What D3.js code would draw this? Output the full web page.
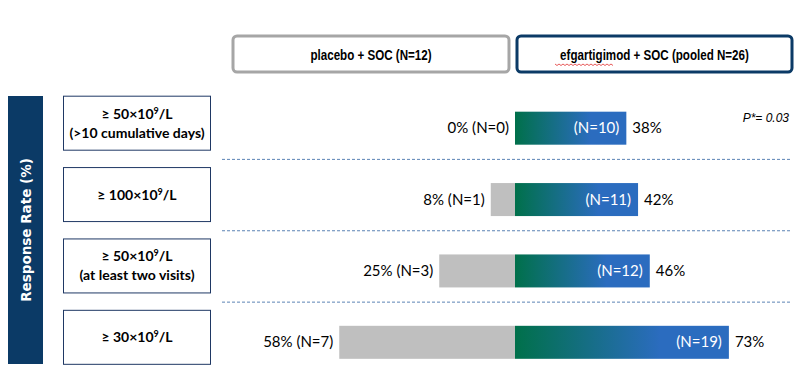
<!DOCTYPE html>
<html>
<head>
<meta charset="utf-8">
<script src="https://cdn.jsdelivr.net/npm/d3@7"></script>
<style>
  body { margin: 0; background: #fff; }
  svg { display: block; }
</style>
</head>
<body>
<div id="chart"></div>
<script>
// thresholds shown in the left boxes (one array of lines per row)
const categories = [
  ['≥ 50×10⁹/L', '(>10 cumulative days)'],
  ['≥ 100×10⁹/L'],
  ['≥ 50×10⁹/L', '(at least two visits)'],
  ['≥ 30×10⁹/L']
];
const placeboPct = [0, 8, 25, 58];
const placeboN = [0, 1, 3, 7];
const efgPct = [38, 42, 46, 73];
const efgN = [10, 11, 12, 19];
const groupLabels = ['placebo + SOC (N=12)', 'efgartigimod + SOC (pooled N=26)'];
const pValue = 'P*= 0.03';

const width = 811;
const height = 372;
const navy = '#0b3a66';
const labelFont = 'Lato, "Open Sans", sans-serif';

const svg = d3.select('#chart').append('svg')
  .attr('width', width)
  .attr('height', height);

// gradient for the efgartigimod bars
const grad = svg.append('defs').append('linearGradient')
  .attr('id', 'efgGrad')
  .attr('x1', '0').attr('x2', '1').attr('y1', '0').attr('y2', '0');
grad.append('stop').attr('offset', '0').attr('stop-color', '#00704a');
grad.append('stop').attr('offset', '0.68').attr('stop-color', '#2b6cbf');
grad.append('stop').attr('offset', '1').attr('stop-color', '#2b6cbf');

// scales: rows, and one x scale per side of the centre line
const rowIdx = categories.map((d, i) => i);
const y = d3.scaleBand().domain(rowIdx).range([87.5, 373]);
const xLeft = d3.scaleLinear().domain([0, 100]).range([515, 212]);
const xRight = d3.scaleLinear().domain([0, 100]).range([515, 808]);
const barH = 33;
const barOffset = 5; // bars sit a bit lower than the label boxes
const rowMid = i => y(i) + y.bandwidth() / 2;

// header boxes
const headers = [
  { x: 233, w: 276, stroke: '#a6a6a6', text: groupLabels[0] },
  { x: 517, w: 275, stroke: navy, text: groupLabels[1] }
];
const head = svg.selectAll('g.header').data(headers).join('g').attr('class', 'header');
head.append('rect')
  .attr('x', d => d.x).attr('y', 36)
  .attr('width', d => d.w).attr('height', 36)
  .attr('rx', 4)
  .attr('fill', '#fff')
  .attr('stroke', d => d.stroke)
  .attr('stroke-width', 3);
// narrow bold face: squeeze Liberation Sans horizontally
head.append('text')
  .attr('transform', d => `translate(${d.x + d.w / 2},59.5) scale(0.8,1)`)
  .attr('text-anchor', 'middle')
  .attr('font-family', '"Liberation Sans", Arial, sans-serif')
  .attr('font-weight', 'bold')
  .attr('font-size', 14.5)
  .attr('fill', '#000')
  .text(d => d.text);

// spell-check squiggle under "efgartigimod"
const squig = d3.range(555, 614, 2).map((px, i) => [px, 64.5 + (i % 2 ? 1 : -0.5)]);
svg.append('path')
  .attr('d', d3.line()(squig))
  .attr('fill', 'none')
  .attr('stroke', '#e03030')
  .attr('stroke-width', 0.8);

// vertical axis title
svg.append('rect')
  .attr('x', 8).attr('y', 96)
  .attr('width', 35).attr('height', 268)
  .attr('fill', navy);
svg.append('text')
  .attr('transform', 'translate(30.5,230) rotate(-90)')
  .attr('text-anchor', 'middle')
  .attr('font-family', '"DejaVu Sans", Verdana, sans-serif')
  .attr('font-weight', 'bold')
  .attr('font-size', 13.5)
  .attr('fill', '#fff')
  .text('Response Rate (%)');

// category boxes
const boxes = svg.selectAll('g.cat').data(categories).join('g').attr('class', 'cat');
boxes.append('rect')
  .attr('x', 63.5).attr('y', (d, i) => rowMid(i) - 27)
  .attr('width', 147).attr('height', 54)
  .attr('fill', '#fff')
  .attr('stroke', '#1f3864')
  .attr('stroke-width', 1);
boxes.append('text')
  .attr('text-anchor', 'middle')
  .attr('font-family', labelFont)
  .attr('font-weight', 'bold')
  .attr('font-size', 14)
  .attr('fill', '#000')
  .each(function (d, i) {
    const t = d3.select(this);
    const start = rowMid(i) + 5 - (d.length - 1) * 9.5;
    d.forEach((line, k) => {
      const ly = start + k * 19;
      const parts = line.split('⁹');
      if (parts.length === 1) {
        t.append('tspan').attr('x', 137).attr('y', ly).text(line);
        return;
      }
      // draw the exponent as a raised small 9
      const w = line.length * 7.1;
      t.append('tspan').attr('x', 137 - w / 2).attr('y', ly)
        .attr('text-anchor', 'start').text(parts[0]);
      t.append('tspan').attr('dy', -5).attr('font-size', 9).text('9');
      t.append('tspan').attr('dy', 5).text(parts[1]);
    });
  });
// recentre the lines that carry an exponent
boxes.selectAll('text').each(function () {
  d3.select(this).selectAll('tspan[text-anchor="start"]').each(function () {
    const first = this;
    const sibs = [first, first.nextSibling, first.nextSibling.nextSibling];
    const w = sibs.reduce((s, n) => s + n.getComputedTextLength(), 0);
    d3.select(first).attr('x', 137 - w / 2);
  });
});

// dashed separators between rows
svg.selectAll('line.sep').data(rowIdx.slice(1)).join('line')
  .attr('class', 'sep')
  .attr('x1', 222).attr('x2', 792)
  .attr('y1', i => y(i) + 0.5).attr('y2', i => y(i) + 0.5)
  .attr('stroke', '#5b83b5')
  .attr('stroke-width', 1)
  .attr('stroke-dasharray', '3,2');

// placebo bars (grow to the left)
svg.selectAll('rect.placebo').data(placeboPct).join('rect')
  .attr('class', 'placebo')
  .attr('x', d => xLeft(d))
  .attr('y', (d, i) => rowMid(i) + barOffset - barH / 2)
  .attr('width', d => xLeft(0) - xLeft(d))
  .attr('height', barH)
  .attr('fill', '#bfbfbf');

// efgartigimod bars (grow to the right)
svg.selectAll('rect.efg').data(efgPct).join('rect')
  .attr('class', 'efg')
  .attr('x', xRight(0))
  .attr('y', (d, i) => rowMid(i) + barOffset - barH / 2)
  .attr('width', d => xRight(d) - xRight(0))
  .attr('height', barH)
  .attr('fill', 'url(#efgGrad)');

// placebo labels
svg.selectAll('text.plab').data(placeboPct).join('text')
  .attr('class', 'plab')
  .attr('x', d => xLeft(d) - 6)
  .attr('y', (d, i) => rowMid(i) + barOffset + 5)
  .attr('text-anchor', 'end')
  .attr('font-family', labelFont)
  .attr('font-size', 15)
  .attr('fill', '#000')
  .text((d, i) => `${d}% (N=${placeboN[i]})`);

// N inside efgartigimod bars
svg.selectAll('text.nlab').data(efgPct).join('text')
  .attr('class', 'nlab')
  .attr('x', d => xRight(d) - 7)
  .attr('y', (d, i) => rowMid(i) + barOffset + 5)
  .attr('text-anchor', 'end')
  .attr('font-family', labelFont)
  .attr('font-size', 15)
  .attr('fill', '#fff')
  .text((d, i) => `(N=${efgN[i]})`);

// percentages to the right
svg.selectAll('text.elab').data(efgPct).join('text')
  .attr('class', 'elab')
  .attr('x', d => xRight(d) + 6)
  .attr('y', (d, i) => rowMid(i) + barOffset + 5)
  .attr('font-family', labelFont)
  .attr('font-size', 15)
  .attr('fill', '#000')
  .text(d => `${d}%`);

// p value note
svg.append('text')
  .attr('x', 789).attr('y', 122)
  .attr('text-anchor', 'end')
  .attr('font-family', '"Liberation Sans", Arial, sans-serif')
  .attr('font-style', 'italic')
  .attr('font-size', 12)
  .attr('fill', '#000')
  .text(pValue);
</script>
</body>
</html>
